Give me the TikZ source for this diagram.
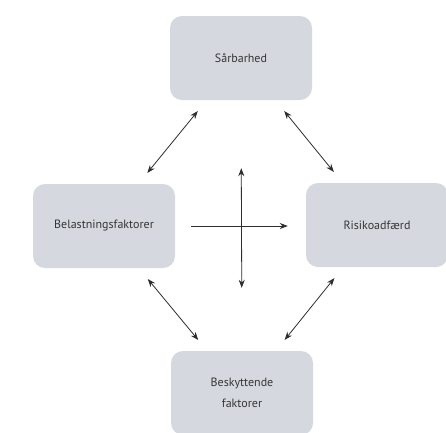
\documentclass[tikz,border=0pt]{standalone}
\usepackage{fontspec}
\setmainfont{PT Sans}
\usetikzlibrary{arrows.meta}
\definecolor{boxgray}{HTML}{D5D8DE}
\definecolor{txtgray}{HTML}{363636}
\definecolor{arrgray}{HTML}{2E2E2E}

\begin{document}
\begin{tikzpicture}[x=1pt,y=-1pt,
	factor/.style={fill=boxgray, rounded corners=12pt, minimum width=142pt, minimum height=84pt, align=center, text=txtgray, font=\fontsize{12}{21}\selectfont, inner sep=0pt},
	link/.style={draw=arrgray, line width=0.8pt, {Stealth[length=8pt,width=6pt]}-{Stealth[length=8pt,width=6pt]}, shorten <=14pt, shorten >=14pt}]
	\useasboundingbox[fill=white] (0,0) rectangle (446,432);
	\node[factor] (sar) at (241,58) {Sårbarhed};
	\node[factor] (bel) at (104,226) {Belastningsfaktorer};
	\node[factor] (ris) at (377,225) {Risikoadfærd};
	\node[factor] (besk) at (242,393) {Beskyttende\\faktorer};
	\draw[link] (sar) -- (bel);
	\draw[link] (sar) -- (ris);
	\draw[link] (bel) -- (besk);
	\draw[link] (ris) -- (besk);
	\draw[link, -{Stealth[length=8pt,width=6pt]}, shorten <=16pt, shorten >=18pt] (bel.east) -- (bel.east -| ris.west);
	\draw[link, shorten <=68pt, shorten >=63pt] (sar.south) -- (besk.north);
\end{tikzpicture}
\end{document}
